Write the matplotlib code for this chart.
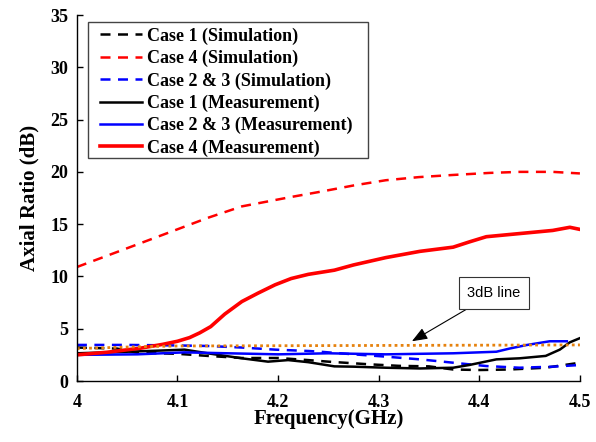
import matplotlib
matplotlib.use("Agg")
import matplotlib.pyplot as plt
from matplotlib.patches import Rectangle

# Data
c4_sim_f = [4.0, 4.05, 4.097, 4.13, 4.164, 4.213, 4.242, 4.275, 4.307, 4.34, 4.373, 4.41, 4.44, 4.473, 4.5]
c4_sim_v = [10.9, 12.7, 14.4, 15.6, 16.7, 17.6, 18.1, 18.7, 19.2, 19.5, 19.7, 19.9, 20.0, 20.0, 19.85]

c4_meas_f = [4.0, 4.03, 4.064, 4.085, 4.1, 4.112, 4.122, 4.133, 4.147, 4.164, 4.18, 4.197, 4.213, 4.23, 4.256, 4.275, 4.307, 4.341, 4.374, 4.39, 4.407, 4.44, 4.473, 4.49, 4.5]
c4_meas_v = [2.5, 2.75, 3.15, 3.5, 3.8, 4.15, 4.6, 5.2, 6.4, 7.6, 8.4, 9.2, 9.8, 10.2, 10.6, 11.1, 11.8, 12.4, 12.8, 13.3, 13.8, 14.1, 14.4, 14.7, 14.5]

c23_sim_f = [4.0, 4.05, 4.1, 4.13, 4.164, 4.197, 4.23, 4.242, 4.275, 4.307, 4.341, 4.374, 4.407, 4.44, 4.473, 4.5]
c23_sim_v = [3.45, 3.45, 3.4, 3.35, 3.2, 3.0, 2.87, 2.8, 2.55, 2.33, 2.07, 1.75, 1.43, 1.27, 1.37, 1.53]

c1_sim_f = [4.0, 4.04, 4.06, 4.1, 4.13, 4.164, 4.2, 4.23, 4.25, 4.29, 4.32, 4.35, 4.374, 4.4, 4.43, 4.466, 4.5]
c1_sim_v = [3.2, 3.1, 2.7, 2.6, 2.4, 2.2, 2.2, 2.0, 1.85, 1.6, 1.45, 1.4, 1.1, 1.05, 1.1, 1.27, 1.75]

c1_meas_f = [4.0, 4.05, 4.08, 4.107, 4.13, 4.164, 4.19, 4.21, 4.23, 4.256, 4.275, 4.307, 4.341, 4.374, 4.39, 4.417, 4.44, 4.466, 4.48, 4.49, 4.5]
c1_meas_v = [2.65, 2.8, 2.9, 3.0, 2.65, 2.17, 1.85, 2.0, 1.8, 1.4, 1.37, 1.27, 1.2, 1.27, 1.53, 2.07, 2.17, 2.4, 3.0, 3.7, 4.1]

c23_meas_f = [4.0, 4.06, 4.107, 4.15, 4.2, 4.25, 4.307, 4.374, 4.417, 4.43, 4.447, 4.47, 4.487]
c23_meas_v = [2.5, 2.55, 2.74, 2.65, 2.55, 2.65, 2.55, 2.65, 2.8, 3.1, 3.44, 3.8, 3.8]

line3db_f = [4.0, 4.05, 4.1, 4.3, 4.5]
line3db_v = [3.1, 3.25, 3.35, 3.4, 3.45]

x_ticks = [4.0, 4.1, 4.2, 4.3, 4.4, 4.5]
x_tick_labels = ["4", "4.1", "4.2", "4.3", "4.4", "4.5"]
y_ticks = [0, 5, 10, 15, 20, 25, 30, 35]

serif = ["Liberation Serif", "DejaVu Serif"]

fig = plt.figure(figsize=(5.96, 4.42), dpi=100)
ax = fig.add_axes([0.129, 0.138, 0.844, 0.828])

dash = (0, (4, 3))
ax.plot(c1_sim_f, c1_sim_v, color="black", linestyle=dash, lw=1.8, label="Case 1 (Simulation)")
ax.plot(c4_sim_f, c4_sim_v, color="red", linestyle=dash, lw=1.8, label="Case 4 (Simulation)")
ax.plot(c23_sim_f, c23_sim_v, color="blue", linestyle=dash, lw=1.8, label="Case 2 & 3 (Simulation)")
ax.plot(c1_meas_f, c1_meas_v, color="black", lw=1.8, label="Case 1 (Measurement)")
ax.plot(c23_meas_f, c23_meas_v, color="blue", lw=1.8, label="Case 2 & 3 (Measurement)")
ax.plot(c4_meas_f, c4_meas_v, color="red", lw=2.6, label="Case 4 (Measurement)")
ax.plot(line3db_f, line3db_v, color="#e6820e", linestyle=(0, (1, 1.2)), lw=2.0)

ax.set_xlim(4.0, 4.5)
ax.set_ylim(0, 35)
ax.set_xticks(x_ticks)
ax.set_xticklabels(x_tick_labels)
ax.set_yticks(y_ticks)
for s in ["top", "right"]:
    ax.spines[s].set_visible(False)
for s in ["left", "bottom"]:
    ax.spines[s].set_linewidth(1.0)
ax.tick_params(direction="in", length=4, width=1)
ax.tick_params(axis="x", pad=9)
ax.tick_params(axis="y", pad=6)
for lab in ax.get_xticklabels() + ax.get_yticklabels():
    lab.set_fontfamily(serif)
    lab.set_fontweight("bold")
    lab.set_fontsize(13)

ax.set_xlabel("Frequency(GHz)", fontfamily=serif, fontweight="bold", fontsize=15, labelpad=-1)
ax.set_ylabel("Axial Ratio (dB)", fontfamily=serif, fontweight="bold", fontsize=15, labelpad=8)

# legend frame drawn separately to get the original's wider padding
frame = Rectangle((0.022, 0.609), 0.557, 0.372, transform=ax.transAxes, fc="white",
                  ec="#444444", lw=1.0, zorder=4)
ax.add_patch(frame)
leg = ax.legend(loc="upper left", bbox_to_anchor=(0.046, 0.966), prop={"family": serif, "weight": "bold", "size": 13},
                frameon=False, handlelength=2.3,
                labelspacing=0.28, borderpad=0.0, handletextpad=0.3, borderaxespad=0)
leg.set_zorder(5)

ax.annotate("3dB line", xy=(4.333, 3.8), xytext=(4.4145, 8.4),
            fontsize=10.5, fontfamily=["Liberation Sans", "DejaVu Sans"], ha="center", va="center",
            bbox=dict(boxstyle="square,pad=0.6", fc="white", ec="#333333", lw=0.8),
            arrowprops=dict(arrowstyle="-|>,head_length=0.9,head_width=0.35", color="black", lw=0.8,
                            shrinkA=0, shrinkB=0))

fig.savefig("out.png", dpi=100)
